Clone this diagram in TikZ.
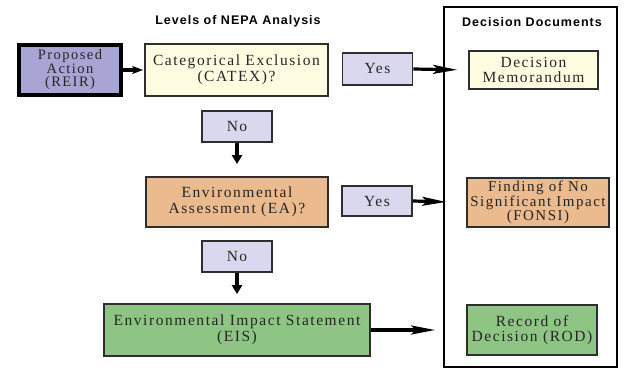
\documentclass[tikz,border=0pt]{standalone}
\usepackage{fontspec}
\setmainfont{Liberation Serif}[LetterSpace=10]
\setsansfont{Liberation Sans}[LetterSpace=8]
\usetikzlibrary{arrows.meta,positioning}
\definecolor{nepapurple}{HTML}{A8A4D4}
\definecolor{nepalav}{HTML}{DAD8EE}
\definecolor{nepayellow}{HTML}{FFFDE1}
\definecolor{nepaorange}{HTML}{EBBA8F}
\definecolor{nepagreen}{HTML}{8EC584}
\definecolor{nepaline}{HTML}{2E2E2E}

\begin{document}
\begin{tikzpicture}[
  x=1pt, y=-1pt,
  level/.style={
    draw=nepaline, line width=1.8pt, font=\fontsize{15.5}{15.5}\selectfont,
    align=center, inner sep=0pt, text=black!85},
  answer/.style={
    level, fill=nepalav, minimum width=70pt, minimum height=31pt},
  heading/.style={font=\sffamily\bfseries\fontsize{12.5}{14}\selectfont},
  arrow/.style={-{Stealth[length=24pt, width=9pt, inset=5pt]}, line width=3.2pt, black},
  down/.style={-{Triangle[length=9pt, width=10pt]}, line width=3.2pt, black},
]
  \useasboundingbox (0,0) rectangle (624,372);

  %% ---- Titles ----
  \node[heading] (lvl) at (238,21) {Levels of NEPA Analysis};
  \draw[line width=2.2pt] (444,7) rectangle (617,367);
  \node[heading] (docs) at (532,22) {Decision Documents};

  %% ---- Levels of analysis ----
  \node[level, fill=nepapurple, draw=black, line width=4pt,
        minimum width=102pt, minimum height=50pt,
        font=\fontsize{14.5}{13.5}\selectfont] (prop) at (70,70)
        {Proposed\\Action\\(REIR)};
  \node[level, fill=nepayellow, minimum width=183pt, minimum height=52pt]
        (catex) at (236.5,70) {Categorical Exclusion\\(CATEX)?};
  \node[level, fill=nepaorange, minimum width=182pt, minimum height=50pt]
        (ea) at (237,202) {Environmental\\Assessment (EA)?};
  \node[level, fill=nepagreen, minimum width=266pt, minimum height=52pt]
        (eis) at (237,330) {Environmental Impact Statement\\(EIS)};

  %% ---- Yes / No ----
  \node[answer, minimum height=32pt] (yes1) at (377.5,69) {Yes};
  \node[answer, minimum height=30pt] (yes2) at (377,201) {Yes};
  \node[answer] (no1) at (237,126.5) {No};
  \node[answer] (no2) at (237,256.5) {No};

  %% ---- Decision documents ----
  \node[level, fill=nepayellow, minimum width=129pt, minimum height=38pt]
        (memo) at (533.5,70) {Decision\\Memorandum};
  \node[level, fill=nepaorange, minimum width=142pt, minimum height=49pt,
        font=\fontsize{15}{14.5}\selectfont]
        (fonsi) at (538,202.5) {Finding of No\\Significant Impact\\(FONSI)};
  \node[level, fill=nepagreen, minimum width=130pt, minimum height=50pt]
        (rod) at (532,330) {Record of\\Decision (ROD)};

  %% ---- Flow ----
  \draw[-{Stealth[length=11pt, width=8pt, inset=3pt]}, line width=3.2pt,
        shorten >=1pt] (prop.east) -- (catex.west);
  \draw[arrow, shorten >=11pt] (yes1.east) -- (memo.west);
  \draw[arrow, shorten >=20pt] (yes2.east) -- (fonsi.west);
  \draw[arrow, shorten >=31pt] (eis.east) -- (rod.west);
  \draw[down, shorten >=12pt] (no1.south) -- (ea.north);
  \draw[down, shorten >=9pt] (no2.south) -- (eis.north);

\end{tikzpicture}
\end{document}
